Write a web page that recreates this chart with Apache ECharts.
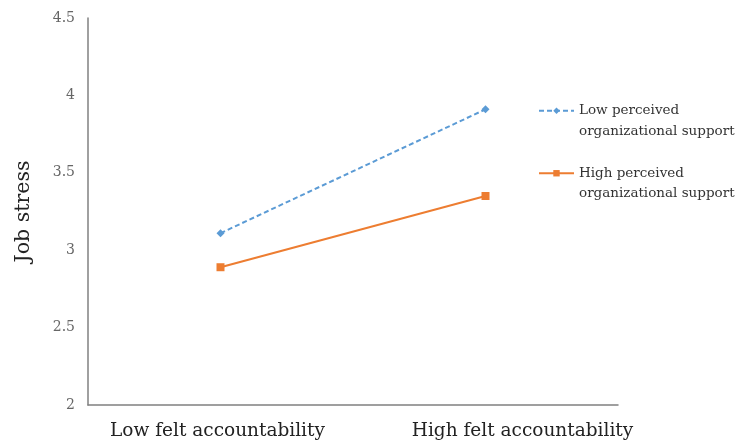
<!DOCTYPE html>
<html>
<head>
<meta charset="utf-8">
<script src="https://cdn.jsdelivr.net/npm/echarts@6/dist/echarts.min.js"></script>
<style>html,body{margin:0;padding:0;background:#fff;}#c{width:742px;height:444px;}</style>
</head>
<body>
<div id="c"></div>
<script>
var categories = ['Low felt accountability', 'High felt accountability'];
var lowSupport = [3.11, 3.91];
var highSupport = [2.89, 3.35];
var seriesNames = ['Low perceived\norganizational support', 'High perceived\norganizational support'];
var yTicks = { min: 2, max: 4.5, interval: 0.5 };

var chart = echarts.init(document.getElementById('c'));
var serif = 'DejaVu Serif';
chart.setOption({
  animation: false,
  backgroundColor: '#ffffff',
  grid: { left: 88, top: 18, width: 530, height: 387, containLabel: false },
  legend: {
    orient: 'vertical',
    left: 538,
    top: 80,
    padding: 0,
    itemGap: 1,
    itemWidth: 35,
    itemHeight: 8,
    data: seriesNames,
    formatter: function (name) { return '\n' + name; },
    textStyle: { fontFamily: serif, fontSize: 13.5, color: '#333', lineHeight: 20.5 }
  },
  xAxis: {
    type: 'category',
    data: categories,
    boundaryGap: true,
    axisLine: { lineStyle: { color: '#808080', width: 1.5 } },
    axisTick: { show: false },
    axisLabel: {
      interval: 0,
      hideOverlap: false,
      margin: 17,
      fontFamily: serif,
      fontSize: 18.5,
      color: '#222',
      formatter: function (v, i) { return i === 1 ? '{r|' + v + '}' : '{l|' + v + '}'; },
      rich: {
        l: { fontFamily: serif, fontSize: 18.5, color: '#222', padding: [0, 6, 0, 0] },
        r: { fontFamily: serif, fontSize: 18.5, color: '#222', padding: [0, 0, 0, 74] }
      }
    }
  },
  yAxis: {
    type: 'value',
    min: yTicks.min,
    max: yTicks.max,
    interval: yTicks.interval,
    name: 'Job stress',
    nameLocation: 'middle',
    nameGap: 54,
    nameTextStyle: { fontFamily: serif, fontSize: 20.5, color: '#222' },
    axisLine: { show: true, lineStyle: { color: '#808080', width: 1.5 } },
    axisTick: { show: false },
    splitLine: { show: false },
    axisLabel: { margin: 13, fontFamily: serif, fontSize: 14, color: '#666' }
  },
  series: [
    {
      name: seriesNames[0],
      type: 'line',
      data: lowSupport,
      symbol: 'diamond',
      symbolSize: 8,
      color: '#5B9BD5',
      lineStyle: { type: [5, 3], width: 2, color: '#5B9BD5' },
      itemStyle: { color: '#5B9BD5' }
    },
    {
      name: seriesNames[1],
      type: 'line',
      data: highSupport,
      symbol: 'rect',
      symbolSize: 8,
      color: '#ED7D31',
      lineStyle: { type: 'solid', width: 2, color: '#ED7D31' },
      itemStyle: { color: '#ED7D31' }
    }
  ]
});
</script>
</body>
</html>
